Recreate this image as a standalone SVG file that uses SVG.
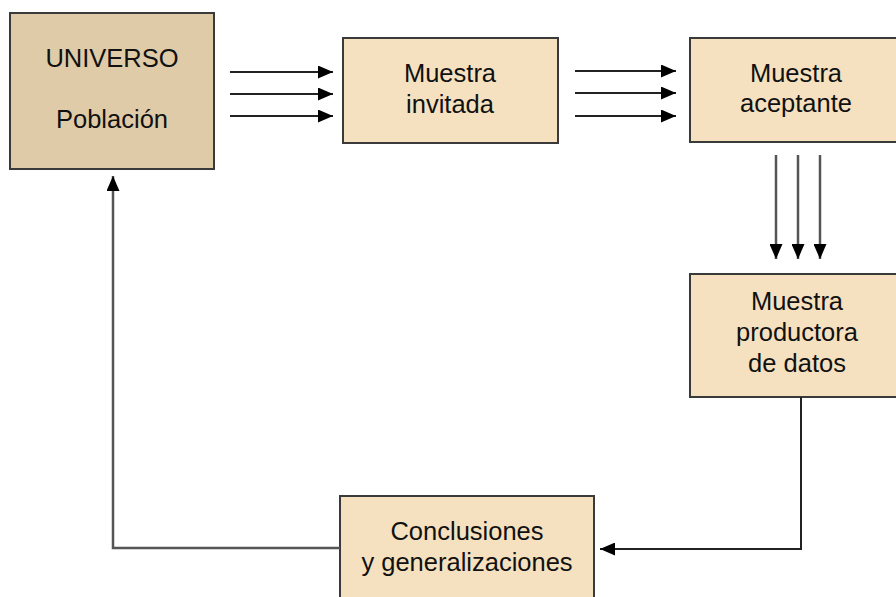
<svg xmlns="http://www.w3.org/2000/svg" width="896" height="597" viewBox="0 0 896 597">
<style>
.box{fill:#f5e1c0;stroke:#3a3a3a;stroke-width:2}
.dark{fill:#dfcba8}
.t{font-family:"Liberation Sans",Arial,sans-serif;font-size:25.5px;fill:#111;text-anchor:middle}
.c{stroke:#222;stroke-width:2;fill:none}
.g{stroke:#555;stroke-width:2.5;fill:none}
</style>
<defs>
<marker id="ah" markerWidth="15" markerHeight="13" refX="15" refY="6.5" orient="auto" markerUnits="userSpaceOnUse">
<path d="M0,0 L15,6.5 L0,13 Z" fill="#000"/>
</marker>
</defs>
<rect width="896" height="597" fill="#fff"/>
<g id="universo">
<rect class="box dark" x="10" y="13" width="204" height="156"/>
<text class="t" x="112" y="67">UNIVERSO</text>
<text class="t" x="112" y="128">Población</text>
</g>
<g id="invitada">
<rect class="box" x="343" y="38" width="215" height="105"/>
<text class="t" x="450" y="82">Muestra</text>
<text class="t" x="450" y="113">invitada</text>
</g>
<g id="aceptante">
<rect class="box" x="690" y="38" width="212" height="104"/>
<text class="t" x="796" y="82">Muestra</text>
<text class="t" x="796" y="112">aceptante</text>
</g>
<g id="productora">
<rect class="box" x="690" y="274" width="212" height="123"/>
<text class="t" x="797" y="310">Muestra</text>
<text class="t" x="797" y="341">productora</text>
<text class="t" x="797" y="372">de datos</text>
</g>
<g id="conclusiones">
<rect class="box" x="340" y="496" width="254" height="110"/>
<text class="t" x="467" y="540">Conclusiones</text>
<text class="t" x="467" y="571">y generalizaciones</text>
</g>
<g id="connectors">
<line class="c" x1="230" y1="72" x2="333" y2="72" marker-end="url(#ah)"/>
<line class="c" x1="230" y1="94" x2="333" y2="94" marker-end="url(#ah)"/>
<line class="c" x1="230" y1="116" x2="333" y2="116" marker-end="url(#ah)"/>
<line class="c" x1="575" y1="71" x2="676" y2="71" marker-end="url(#ah)"/>
<line class="c" x1="575" y1="93" x2="676" y2="93" marker-end="url(#ah)"/>
<line class="c" x1="575" y1="116" x2="676" y2="116" marker-end="url(#ah)"/>
<line class="g" x1="776" y1="155" x2="776" y2="259" marker-end="url(#ah)"/>
<line class="g" x1="798" y1="155" x2="798" y2="259" marker-end="url(#ah)"/>
<line class="g" x1="820" y1="155" x2="820" y2="259" marker-end="url(#ah)"/>
<polyline class="c" points="801,397 801,549 600,549" marker-end="url(#ah)"/>
<polyline class="g" points="340,548 113,548 113,176" marker-end="url(#ah)"/>
</g>
</svg>
